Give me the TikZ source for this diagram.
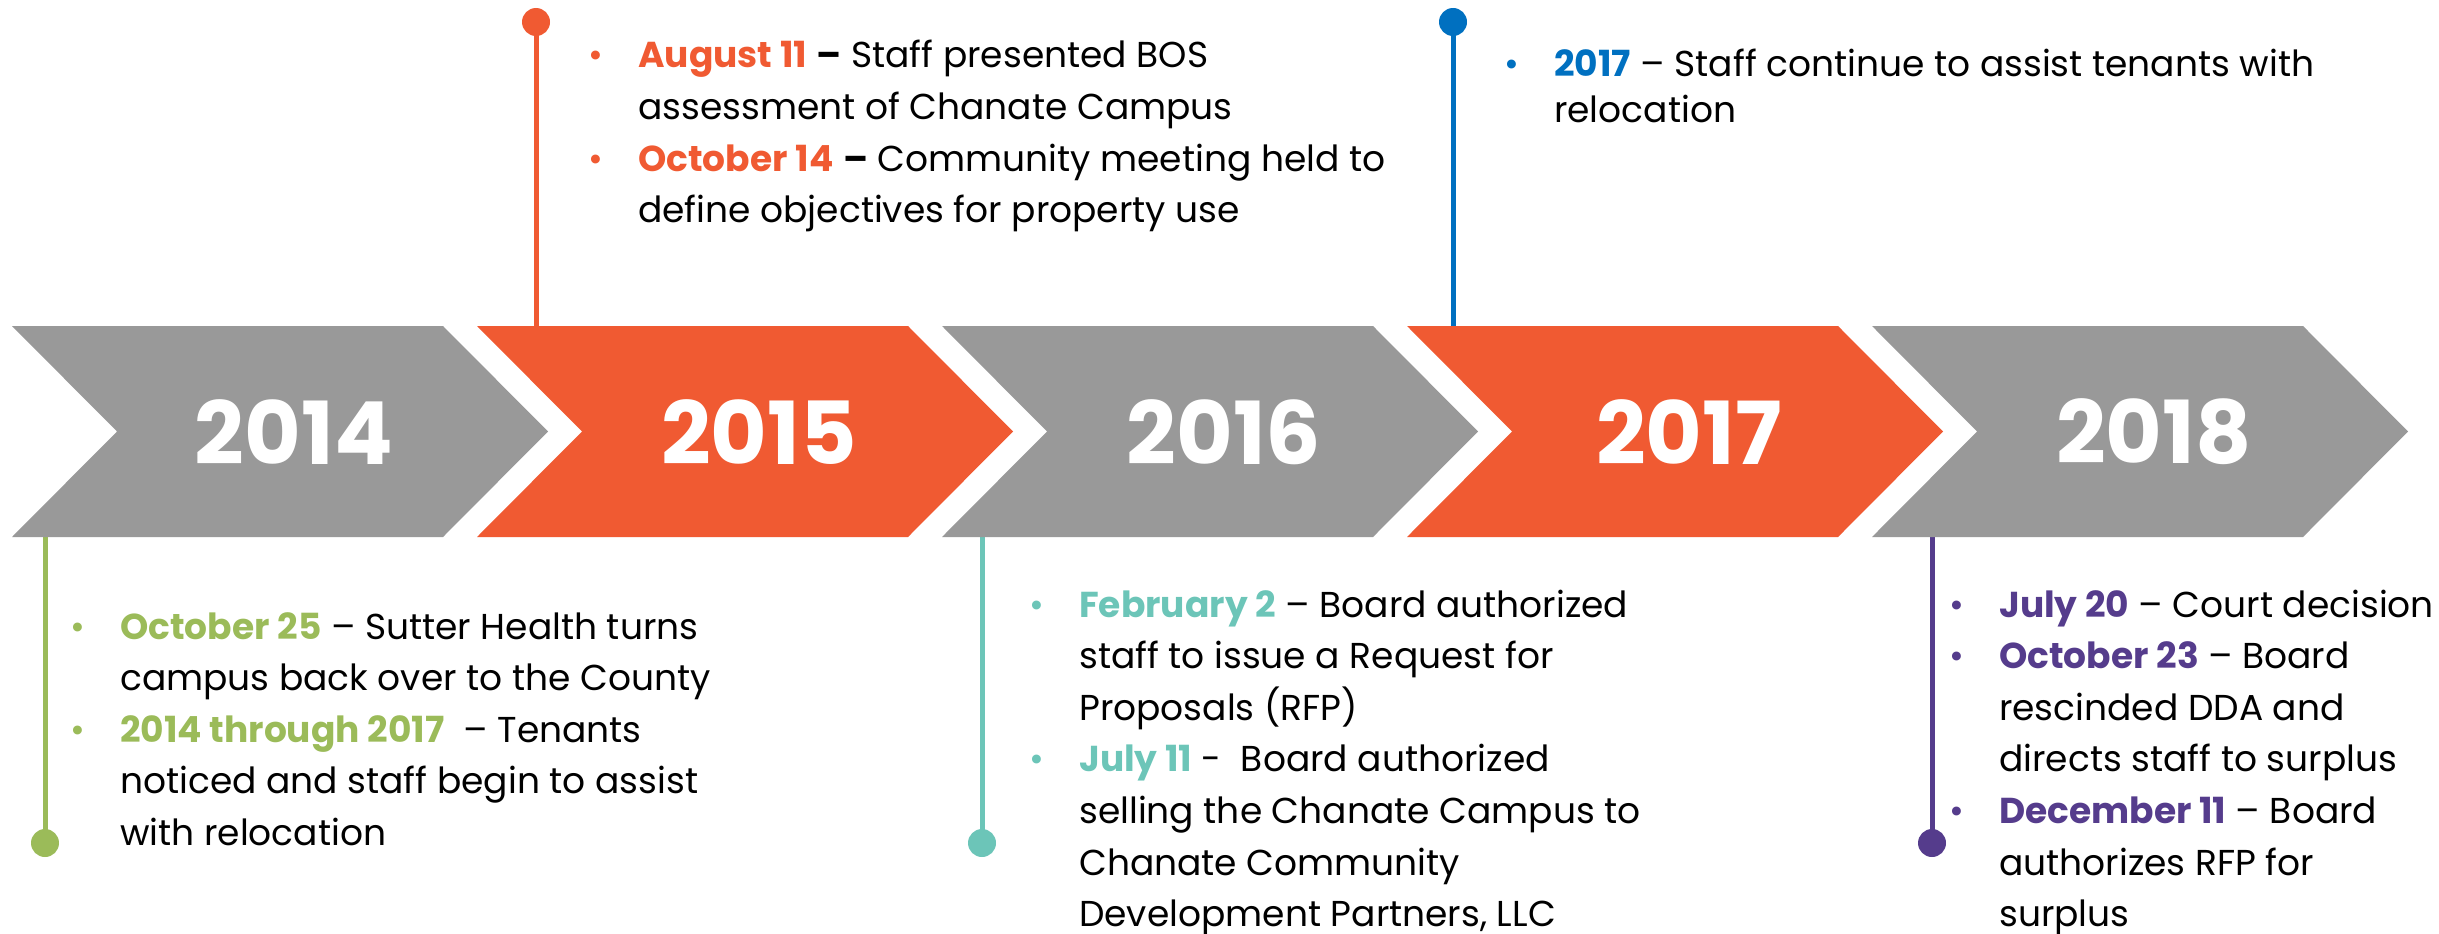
\documentclass[tikz,border=0pt]{standalone}
\usepackage{fontspec}
\setmainfont{Poppins}
\definecolor{cgray}{HTML}{999999}
\definecolor{corange}{HTML}{F05A32}
\definecolor{cgreen}{HTML}{9BBB59}
\definecolor{cteal}{HTML}{6CC5B8}
\definecolor{cblue}{HTML}{0070C0}
\definecolor{cpurple}{HTML}{553C8C}
\newcommand{\chevshape}[2]{%
  \fill[#2] (#1,326) -- ++(431,0) -- ++(105,105.5) -- ++(-105,105.5) -- ++(-431,0) -- ++(105,-105.5) -- cycle;}
\newcommand{\bl}[1]{\makebox[50pt][l]{\textcolor{#1}{•}}}
\newcommand{\ind}{\hspace*{50pt}}
\tikzset{
  year/.style={text=white, font=\fontsize{87}{87}\selectfont\bfseries, inner sep=0pt, anchor=center},
  blk/.style={inner sep=0pt, anchor=base west, text=black},
  dot/.style={circle, fill=#1, minimum size=28pt, inner sep=0pt},
  stem/.style={line width=5pt, draw=#1},
}
\begin{document}
\begin{tikzpicture}[x=1pt,y=-1pt]
\useasboundingbox (0,0) rectangle (2439,934);
% dots and stems
\node[dot=cgreen] (d2014) at (45,843) {};
\node[dot=corange] (d2015) at (536,22) {};
\node[dot=cteal] (d2016) at (982,843) {};
\node[dot=cblue] (d2017) at (1453,22) {};
\node[dot=cpurple] (d2018) at (1932,843) {};
\coordinate (s2014) at (45,537);
\coordinate (s2015) at (536,326);
\coordinate (s2016) at (982,537);
\coordinate (s2017) at (1453,326);
\coordinate (s2018) at (1932,537);
\draw[stem=cgreen] (d2014.center) -- (s2014);
\draw[stem=corange] (d2015.center) -- (s2015);
\draw[stem=cteal] (d2016.center) -- (s2016);
\draw[stem=cblue] (d2017.center) -- (s2017);
\draw[stem=cpurple] (d2018.center) -- (s2018);
% chevrons
\chevshape{12}{cgray}
\chevshape{477}{corange}
\chevshape{942}{cgray}
\chevshape{1407}{corange}
\chevshape{1872}{cgray}
\node[year] (y2014) at (294,432) {2014};
\node[year] (y2015) at (759,432) {2015};
\node[year] (y2016) at (1224,432) {2016};
\node[year] (y2017) at (1689,432) {2017};
\node[year] (y2018) at (2154,432) {2018};
% text blocks
\node[blk] (t2014) at (70,639) {\parbox[t]{800pt}{\fontsize{36}{51.6}\selectfont
\bl{cgreen}\textcolor{cgreen}{\bfseries October 25} – Sutter Health turns\\
\ind campus back over to the County\\
\bl{cgreen}\textcolor{cgreen}{\bfseries 2014 through 2017}\ \ – Tenants\\
\ind noticed and staff begin to assist\\
\ind with relocation}};
\node[blk] (t2015) at (588,68) {\parbox[t]{900pt}{\fontsize{36}{51.6}\selectfont
\bl{corange}\textcolor{corange}{\bfseries August 11} {\bfseries –} Staff presented BOS\\
\ind assessment of Chanate Campus\\
\bl{corange}\textcolor{corange}{\bfseries October 14} {\bfseries –} Community meeting held to\\
\ind define objectives for property use}};
\node[blk] (t2016) at (1029,617) {\parbox[t]{900pt}{\fontsize{36}{51.6}\selectfont
\bl{cteal}\textcolor{cteal}{\bfseries February 2} – Board authorized\\
\ind staff to issue a Request for\\
\ind Proposals (RFP)\\
\bl{cteal}\textcolor{cteal}{\bfseries July 11} -\ \ Board authorized\\
\ind selling the Chanate Campus to\\
\ind Chanate Community\\
\ind Development Partners, LLC}};
\node[blk] (t2017) at (1504,77) {\parbox[t]{900pt}{\fontsize{36}{46}\selectfont
\bl{cblue}\textcolor{cblue}{\bfseries 2017} – Staff continue to assist tenants with\\
\ind relocation}};
\node[blk] (t2018) at (1949,617) {\parbox[t]{600pt}{\fontsize{36}{51.6}\selectfont
\bl{cpurple}\textcolor{cpurple}{\bfseries July 20} – Court decision\\
\bl{cpurple}\textcolor{cpurple}{\bfseries October 23} – Board\\
\ind rescinded DDA and\\
\ind directs staff to surplus\\
\bl{cpurple}\textcolor{cpurple}{\bfseries December 11} – Board\\
\ind authorizes RFP for\\
\ind surplus}};
\end{tikzpicture}
\end{document}
